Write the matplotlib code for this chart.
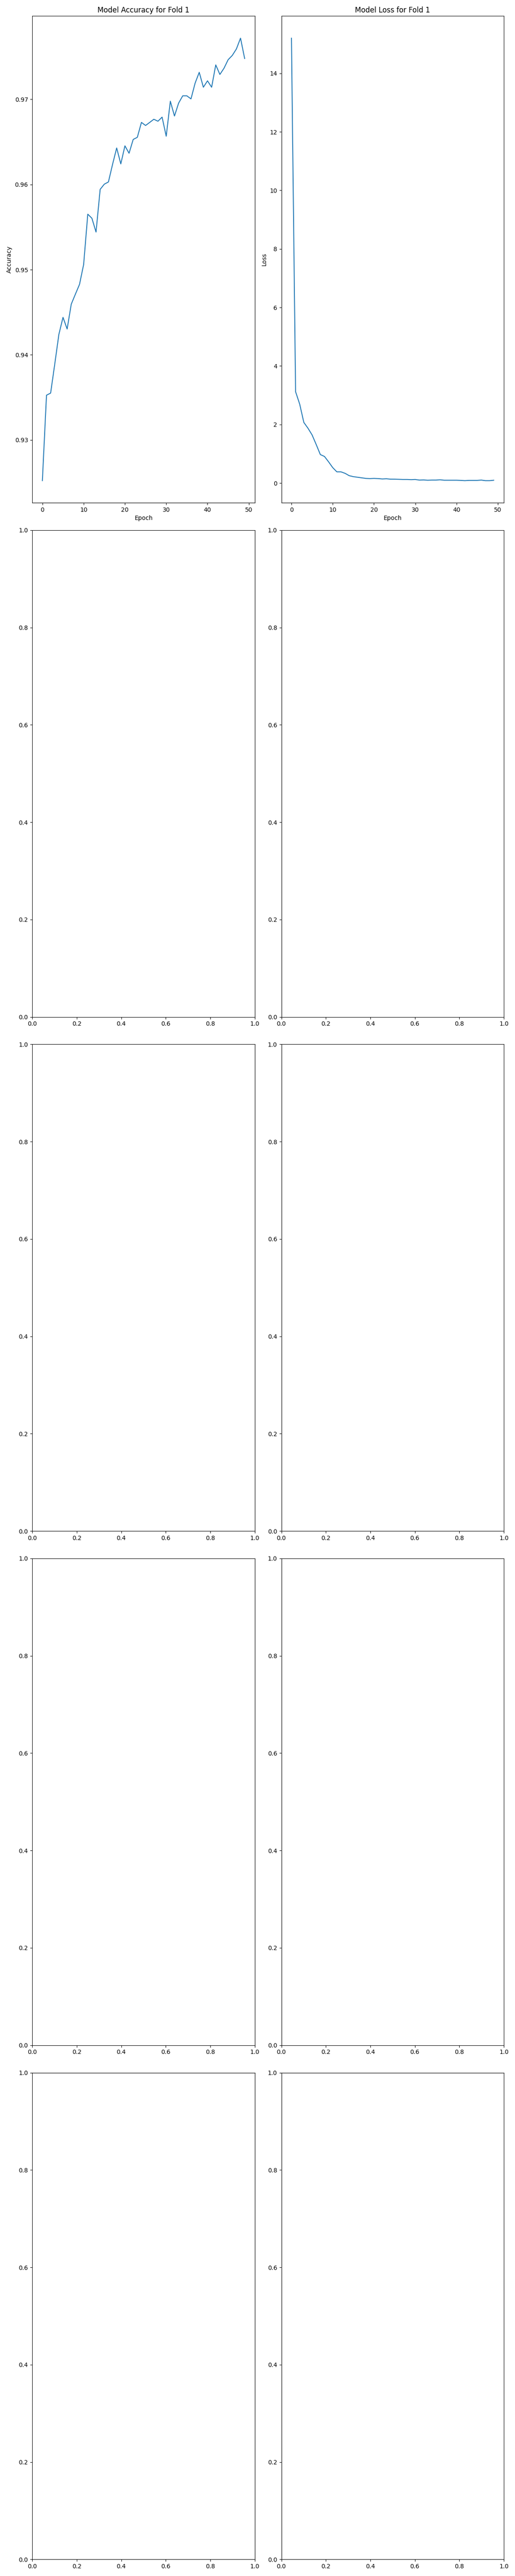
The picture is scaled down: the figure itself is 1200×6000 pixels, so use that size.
import matplotlib
matplotlib.use("Agg")
import matplotlib.pyplot as plt
import numpy as np

epochs = list(range(50))
accuracy = [0.92523, 0.93526, 0.93551, 0.93891, 0.94240, 0.94440, 0.94303, 0.94595, 0.94712, 0.94827,
            0.95061, 0.95651, 0.95603, 0.95441, 0.95942, 0.96003, 0.96029, 0.96235, 0.96428, 0.96241,
            0.96453, 0.96366, 0.96528, 0.96553, 0.96728, 0.96692, 0.96728, 0.96765, 0.96742, 0.96790,
            0.96566, 0.96977, 0.96803, 0.96954, 0.97040, 0.97040, 0.97004, 0.97189, 0.97316, 0.97141,
            0.97216, 0.97141, 0.97403, 0.97291, 0.97364, 0.97464, 0.97514, 0.97590, 0.97717, 0.97478]
loss = [15.20, 3.121, 2.694, 2.070, 1.873, 1.643, 1.314, 0.972, 0.907, 0.723,
        0.526, 0.381, 0.381, 0.330, 0.250, 0.217, 0.197, 0.177, 0.158, 0.151,
        0.158, 0.151, 0.138, 0.145, 0.131, 0.130, 0.125, 0.120, 0.120, 0.115,
        0.120, 0.100, 0.105, 0.095, 0.100, 0.100, 0.110, 0.095, 0.095, 0.095,
        0.095, 0.090, 0.080, 0.090, 0.090, 0.090, 0.100, 0.080, 0.080, 0.095]

fig, axes = plt.subplots(5, 2, figsize=(12, 60))
ax = axes[0, 0]
ax.plot(epochs, accuracy)
ax.set_title("Model Accuracy for Fold 1")
ax.set_xlabel("Epoch")
ax.set_ylabel("Accuracy")

ax = axes[0, 1]
ax.plot(epochs, loss)
ax.set_title("Model Loss for Fold 1")
ax.set_xlabel("Epoch")
ax.set_ylabel("Loss")

plt.tight_layout()
fig.savefig("out.png", dpi=100)
